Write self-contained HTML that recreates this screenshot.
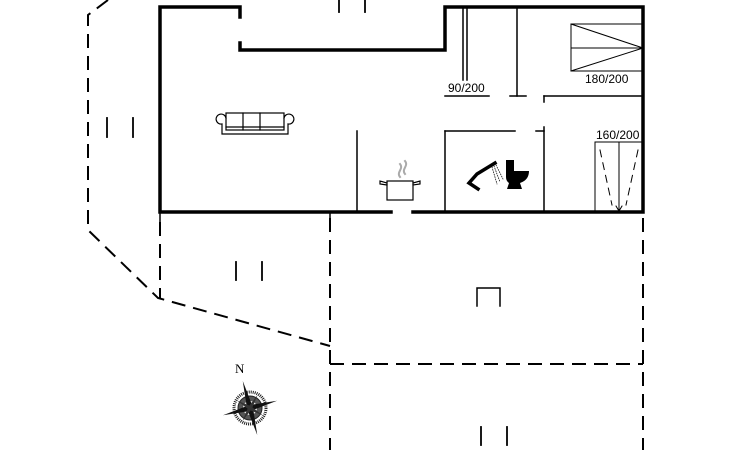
<!DOCTYPE html>
<html><head><meta charset="utf-8"><style>
html,body{margin:0;padding:0;background:#fff;}
svg{display:block;}
.s{font-family:"Liberation Sans",sans-serif;}
</style></head><body>
<svg width="730" height="450" viewBox="0 0 730 450" xmlns="http://www.w3.org/2000/svg">
<g fill="none" stroke="#000" stroke-linecap="square">
  <polyline stroke-width="3.5" points="240,17 240,7 160,7 160,212 391,212"/>
  <polyline stroke-width="3.5" points="240,43 240,50 445,50 445,7 643,7 643,212 413,212"/>
  <g stroke-width="1.5">
    <line x1="463" y1="8" x2="463" y2="80"/>
    <line x1="467" y1="8" x2="467" y2="80"/>
    <line x1="445" y1="96" x2="489" y2="96"/>
    <line x1="517" y1="8" x2="517" y2="96"/>
    <line x1="510" y1="96" x2="526" y2="96"/>
    <line x1="544" y1="96" x2="643" y2="96"/>
    <line x1="544" y1="96" x2="544" y2="102"/>
    <line x1="445" y1="131" x2="515" y2="131"/>
    <line x1="536" y1="131" x2="544" y2="131"/>
    <line x1="544" y1="127" x2="544" y2="212"/>
    <line x1="445" y1="131" x2="445" y2="212"/>
    <line x1="357" y1="131" x2="357" y2="212"/>
    <line x1="330" y1="212" x2="330" y2="218"/>
    <line x1="160" y1="212" x2="160" y2="222"/>
  </g>
  <g stroke-width="1">
    <rect x="571" y="24" width="72" height="47"/>
    <line x1="571" y1="48" x2="643" y2="48"/>
    <polyline points="571,24 643,48 571,71"/>
    <rect x="595" y="142" width="48" height="70"/>
    <line x1="619" y1="142" x2="619" y2="212"/>
    <line x1="600" y1="150" x2="612" y2="205" stroke-dasharray="7,6"/>
    <line x1="638" y1="150" x2="626" y2="205" stroke-dasharray="7,6"/>
    <polyline points="616,206 619,211 622,206"/>
  </g>
  <g stroke-width="2" stroke-dasharray="14,8" stroke-linecap="butt">
    <polyline points="108,0 88,15 88,230 158,298 330,346"/>
    <line x1="160" y1="222" x2="160" y2="298"/>
    <line x1="330" y1="218" x2="330" y2="450"/>
    <line x1="643" y1="218" x2="643" y2="450"/>
    <line x1="330" y1="364" x2="643" y2="364"/>
  </g>
  <g stroke-width="1.8">
    <line x1="107" y1="118" x2="107" y2="137"/><line x1="133" y1="118" x2="133" y2="137"/>
    <line x1="339" y1="0" x2="339" y2="12"/><line x1="365" y1="0" x2="365" y2="12"/>
    <line x1="236" y1="262" x2="236" y2="280"/><line x1="262" y1="262" x2="262" y2="280"/>
    <line x1="481" y1="427" x2="481" y2="445"/><line x1="507" y1="427" x2="507" y2="445"/>
    <polyline stroke-width="1.5" points="477,306 477,288 500,288 500,306"/>
  </g>
  <g stroke-width="1.2">
    <rect x="226" y="113" width="58" height="17"/>
    <line x1="243" y1="113" x2="243" y2="130"/><line x1="260" y1="113" x2="260" y2="130"/>
    <path d="M226,118 a5,5 0 1 0 -4,6 v10 h66 v-10 a5,5 0 1 0 -4,-6"/>
    <line x1="226" y1="127" x2="284" y2="127"/>
  </g>
  <g stroke-width="1.2">
    <rect x="387" y="181" width="26" height="19"/>
    <path d="M387,183 l-7,-2 v3 l7,1 M413,183 l7,-2 v3 l-7,1"/>
    <path d="M400,177 c-4,-5 4,-8 0,-13 M405,174 c-4,-5 4,-8 0,-13" stroke="#aaa" stroke-width="2"/>
  </g>
  <path d="M495,163 L477,174 L469,183 L478,189" stroke-width="3.5"/>
  <g stroke-width="0.7" stroke-dasharray="1,1.5">
    <line x1="494" y1="166" x2="500" y2="182"/><line x1="496" y1="165" x2="503" y2="179"/><line x1="492" y1="167" x2="497" y2="184"/>
  </g>
</g>
<path d="M506,160 h8 v11 h15 q0,9 -9,12 l2,6 h-15 l2,-6 q-3,-2 -3,-6 z" fill="#000"/>
<g transform="translate(250,408)">
  <circle r="16" fill="none" stroke="#222" stroke-width="3" stroke-dasharray="1,1"/>
  <circle r="12" fill="#555" stroke="#222"/>
  <circle r="7" fill="#eee"/>
  <polygon points="0,-28 3,0 0,28 -3,0" fill="#111" transform="rotate(-15)"/>
  <polygon points="-28,0 0,3 28,0 0,-3" fill="#111" transform="rotate(-15)"/>
  <polygon points="0,-15 2,0 0,15 -2,0" fill="#333" transform="rotate(30)"/>
  <polygon points="0,-15 2,0 0,15 -2,0" fill="#333" transform="rotate(120)"/>
</g>
<text x="235" y="373" style="font-family:'Liberation Serif',serif;font-size:13px">N</text>
<text class="s" x="448" y="92" font-size="12">90/200</text>
<text class="s" x="585" y="83" font-size="12">180/200</text>
<text class="s" x="596" y="139" font-size="12">160/200</text>
</svg>
</body></html>
